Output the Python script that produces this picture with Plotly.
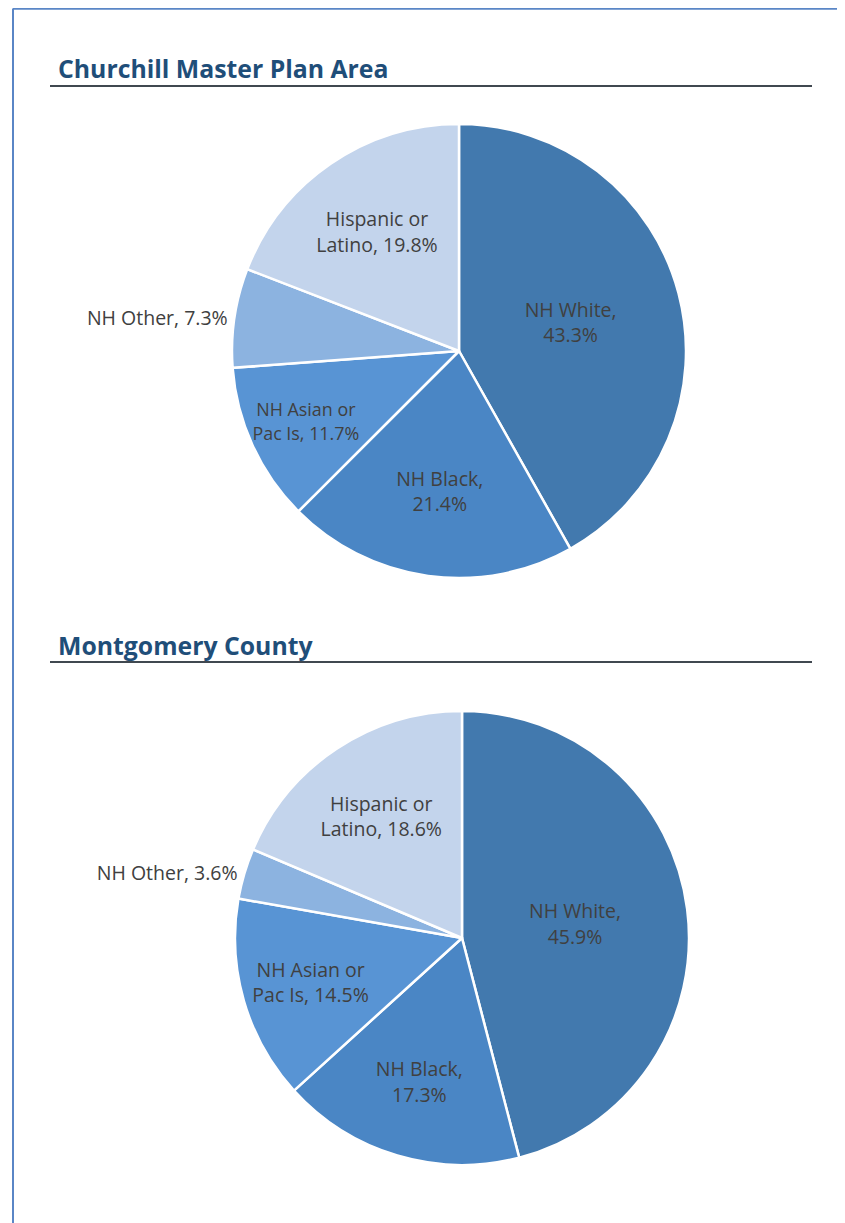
import plotly.graph_objects as go

categories = ["NH White", "NH Black", "NH Asian or Pac Is", "NH Other", "Hispanic or Latino"]
# display label lines (how each category name is wrapped)
label_first = ["NH White,", "NH Black,", "NH Asian or", "NH Other,", "Hispanic or"]
label_second = ["", "", "Pac Is,", "", "Latino,"]

churchill_values = [43.3, 21.4, 11.7, 7.3, 19.8]
county_values = [45.9, 17.3, 14.5, 3.6, 18.6]

titles = ["Churchill Master Plan Area", "Montgomery County"]
colors = ["#4279AE", "#4A86C5", "#5894D4", "#8CB3E0", "#C3D4EC"]
text_positions = ["inside", "inside", "inside", "outside", "inside"]

W, H = 845, 1223
OFF = 8  # page body margin offset


def make_text(values):
    out = []
    for f, s, v, pos in zip(label_first, label_second, values, text_positions):
        if pos == "outside":
            out.append(f"{f} {v:.1f}%")
        elif s:
            out.append(f"{f}<br>{s} {v:.1f}%")
        else:
            out.append(f"{f}<br>{v:.1f}%")
    return out


def px(x):
    return (x - OFF) / W


def py(y):
    return 1 - (y - OFF) / H


def domain(cx, cy, r):
    return dict(x=[px(cx - r), px(cx + r)], y=[py(cy + r), py(cy - r)])


fig = go.Figure()
for vals, dom in [(churchill_values, domain(459, 351, 227)), (county_values, domain(462, 938, 227))]:
    fig.add_trace(go.Pie(
        labels=categories,
        values=vals,
        text=make_text(vals),
        textinfo="text",
        textposition=text_positions,
        insidetextorientation="horizontal",
        sort=False,
        direction="clockwise",
        rotation=0,
        marker=dict(colors=colors, line=dict(color="white", width=2.5)),
        textfont=dict(family="Open Sans", size=19.5, color="#404040"),
        domain=dom,
        showlegend=False,
        hoverinfo="label+value",
    ))

shapes = []
annotations = []
# page border (left and top)
shapes.append(dict(type="line", xref="paper", yref="paper", x0=px(12.5), x1=1, y0=py(8.9), y1=py(8.9),
                   line=dict(color="#5A86C6", width=1.8)))
shapes.append(dict(type="line", xref="paper", yref="paper", x0=px(13), x1=px(13), y0=0, y1=py(8.9),
                   line=dict(color="#5A86C6", width=2)))
for title, ty, ly in [(titles[0], 68, 86), (titles[1], 645, 662)]:
    annotations.append(dict(text=f"<b>{title}</b>", xref="paper", yref="paper", x=px(56), y=py(ty),
                            xanchor="left", yanchor="middle", showarrow=False,
                            font=dict(family="Open Sans", size=24.8, color="#1F4E79")))
    shapes.append(dict(type="line", xref="paper", yref="paper", x0=px(50), x1=px(812), y0=py(ly), y1=py(ly),
                       line=dict(color="#404850", width=1.8)))

fig.update_layout(
    width=W, height=H,
    margin=dict(l=0, r=0, t=0, b=0),
    paper_bgcolor="white", plot_bgcolor="white",
    shapes=shapes, annotations=annotations,
)
fig.write_html("out.html")
